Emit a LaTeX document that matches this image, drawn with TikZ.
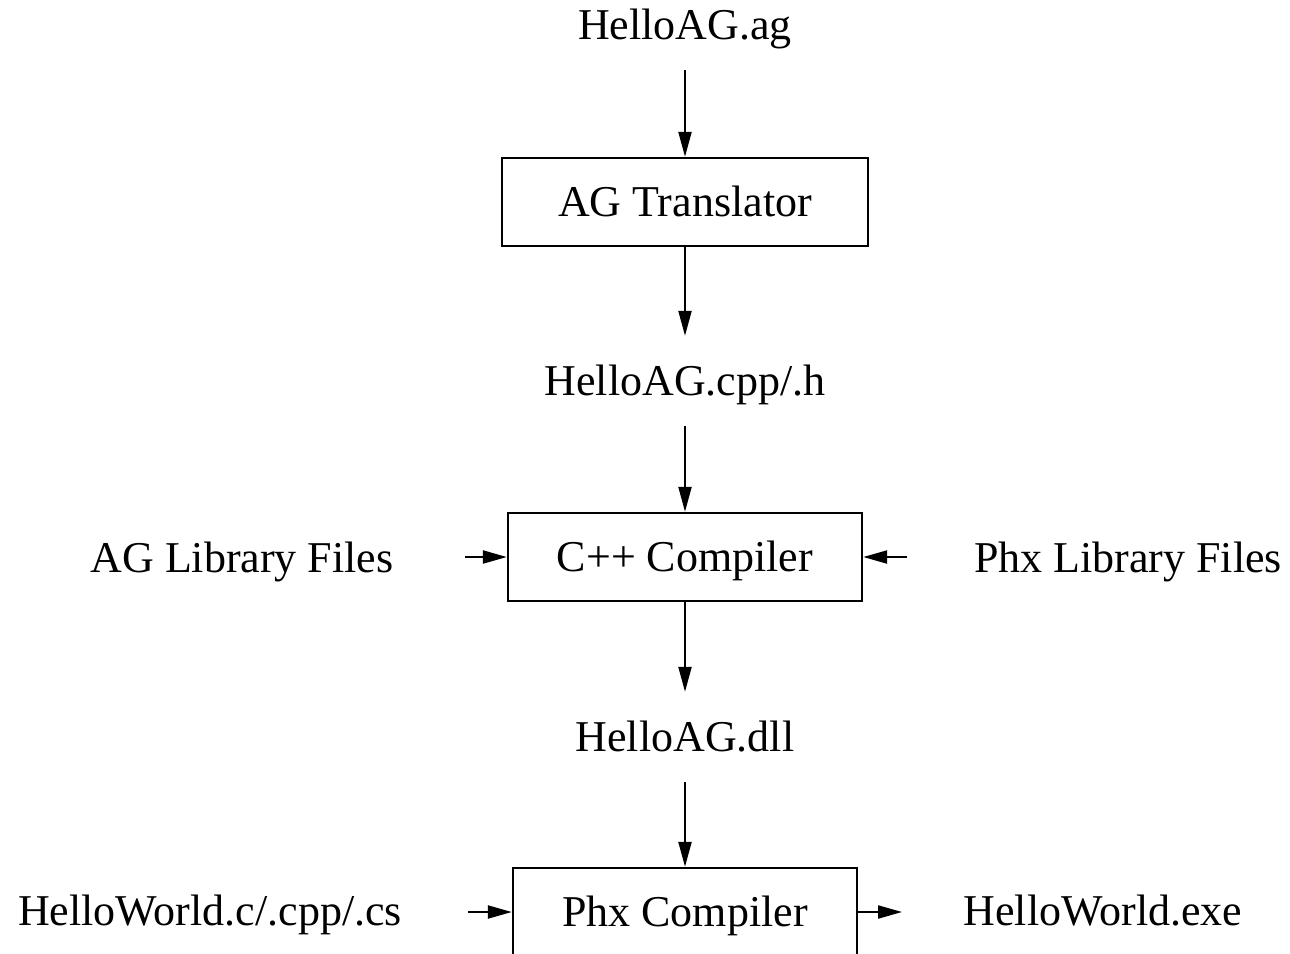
\documentclass[tikz,border=0pt]{standalone}
\usepackage{fontspec}
\setmainfont{Liberation Serif}
\usetikzlibrary{arrows.meta}
\begin{document}
\begin{tikzpicture}[x=1pt,y=-1pt,
  every node/.style={font=\fontsize{44}{52}\selectfont},
  lbl/.style={anchor=base, inner sep=0pt},
  flow/.style={anchor=base, text height=28pt, text depth=0pt, inner ysep=31pt, inner xsep=0pt},
  box/.style={draw, line width=2.4pt, minimum height=88pt, inner sep=0pt, text height=28pt, text depth=0pt},
  arr/.style={line width=2.2pt, -{Triangle[length=25pt,width=13pt]}},
  sarr/.style={line width=2.2pt, -{Triangle[length=24pt,width=13pt]}}]
\useasboundingbox (0,0) rectangle (1290,953);
% top-down chain
\node[flow] (ag) at (685,39) {HelloAG.ag};
\node[box, minimum width=366pt] (tr) at (685,202) {AG Translator};
\node[flow] (cpp) at (685,395) {HelloAG.cpp/.h};
\node[box, minimum width=354pt] (cc) at (685,557) {C++ Compiler};
\node[flow] (dll) at (685,751) {HelloAG.dll};
\node[box, minimum width=344pt] (pc) at (685,912) {Phx Compiler};
% side labels
\node[lbl] (agl) at (242,572) {AG Library Files};
\node[lbl] (phl) at (1128,572) {Phx Library Files};
\node[lbl] (hw) at (210,925) {HelloWorld.c/.cpp/.cs};
\node[lbl] (exe) at (1103,925) {HelloWorld.exe};
% free ends
\coordinate (agla) at (465,557);
\coordinate (phla) at (907,557);
\coordinate (hwa) at (468,912);
\coordinate (exea) at (902,912);
% connectors
\draw[arr] (ag.south) -- (tr.north);
\draw[arr] (tr.south) -- (cpp.north);
\draw[arr] (cpp.south) -- (cc.north);
\draw[arr] (cc.south) -- (dll.north);
\draw[arr] (dll.south) -- (pc.north);
\draw[sarr] (agla) -- (cc.west);
\draw[sarr] (phla) -- (cc.east);
\draw[sarr] (hwa) -- (pc.west);
\draw[sarr] (pc.east) -- (exea);
\end{tikzpicture}
\end{document}
